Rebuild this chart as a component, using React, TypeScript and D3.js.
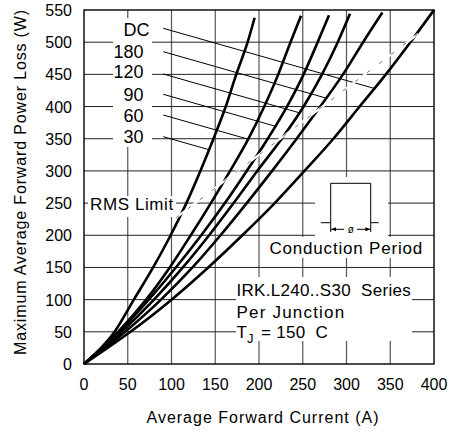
import React from "react";
import * as d3 from "d3";

const WIDTH = 454;
const HEIGHT = 435;
const FONT = "'Liberation Sans', Arial, Helvetica, sans-serif";

// ---- data ----
const xTickValues = [0, 50, 100, 150, 200, 250, 300, 350, 400];
const yTickValues = [0, 50, 100, 150, 200, 250, 300, 350, 400, 450, 500, 550];

const seriesLabels = ["DC", "180", "120", "90", "60", "30"];

const current30 = [0, 35, 57, 79, 99, 117, 133, 148, 162, 174, 187, 195];
const power30 = [0, 50, 100, 150, 200, 250, 300, 350, 400, 450, 500, 538];

const current60 = [0, 39, 71, 98, 122, 145, 167, 188, 206, 222, 236, 248];
const power60 = [0, 50, 100, 150, 200, 250, 300, 350, 400, 450, 500, 541];

const current90 = [0, 40, 74, 105, 134, 161, 186, 210, 232, 251, 267, 280];
const power90 = [0, 50, 100, 150, 200, 250, 300, 350, 400, 450, 500, 542];

const current120 = [0, 43, 80, 113, 143, 171, 198, 226, 251, 272, 290, 304];
const power120 = [0, 50, 100, 150, 200, 250, 300, 350, 400, 450, 500, 544];

const current180 = [0, 47, 88, 124, 156, 186, 215, 243, 270, 296, 319, 341];
const power180 = [0, 50, 100, 150, 200, 250, 300, 350, 400, 450, 500, 546];

const currentDC = [0, 53, 100, 142, 181, 218, 252, 285, 315, 345, 373, 400];
const powerDC = [0, 50, 100, 150, 200, 250, 300, 350, 400, 450, 500, 550];

const rmsCurrent = [105, 382];
const rmsPower = [227, 513];

const seriesCurrents = [currentDC, current180, current120, current90, current60, current30];
const seriesPowers = [powerDC, power180, power120, power90, power60, power30];

// ---- layout ----
const x = d3.scaleLinear().domain([0, 400]).range([84, 434]);
const y = d3.scaleLinear().domain([0, 550]).range([364, 10]);

const labelRight = [149.5, 143.5, 143.5, 143.5, 143.5, 143.5];
const labelBaseline = [36, 58, 78, 101, 121.5, 143];
const leaderStartY = [28.3, 51.7, 74, 94.3, 115, 136.7];
const leaderStartX = 163.3;
const leaderSlope = 0.285;

function leaderEnd(points: [number, number][], y0: number): [number, number] {
  for (let i = 1; i < points.length; i++) {
    const [ax, ay] = points[i - 1];
    const [bx, by] = points[i];
    const fa = ay - (y0 + leaderSlope * (ax - leaderStartX));
    const fb = by - (y0 + leaderSlope * (bx - leaderStartX));
    if (fa >= 0 && fb <= 0) {
      const t = fa / (fa - fb);
      return [ax + t * (bx - ax), ay + t * (by - ay)];
    }
  }
  return points[points.length - 1];
}

export default function App() {
  const line = d3
    .line<[number, number]>()
    .x((d) => x(d[0]))
    .y((d) => y(d[1]))
    .curve(d3.curveMonotoneX);

  const series = seriesCurrents.map((cs, i) =>
    cs.map((c, j) => [c, seriesPowers[i][j]] as [number, number])
  );

  const textStyle = { fontFamily: FONT, fill: "#000" } as React.CSSProperties;

  return (
    <svg
      width={WIDTH}
      height={HEIGHT}
      style={{ position: "absolute", left: 0, top: 0, background: "#fff" }}
    >
      <rect x={0} y={0} width={WIDTH} height={HEIGHT} fill="#fff" />
      {/* grid */}
      {xTickValues.slice(1, -1).map((v) => (
        <line key={"gx" + v} x1={x(v)} x2={x(v)} y1={y(550)} y2={y(0)} stroke="#555" strokeWidth={1.2} />
      ))}
      {yTickValues.slice(1, -1).map((v) => (
        <line key={"gy" + v} x1={x(0)} x2={x(400)} y1={y(v)} y2={y(v)} stroke="#222" strokeWidth={1} />
      ))}

      {/* white boxes behind annotations */}
      <rect x={113} y={18} width={39} height={129} fill="#fff" />
      <rect x={88} y={196} width={88} height={21} fill="#fff" />
      <rect x={315} y={177} width={73} height={61} fill="#fff" />
      <rect x={267} y={237} width={161} height={21} fill="#fff" />
      <rect x={236} y={277} width={176} height={64} fill="#fff" />

      {/* leaders and labels */}
      {series.map((pts, i) => {
        const pix = pts.map((p) => [x(p[0]), y(p[1])] as [number, number]);
        const [ex, ey] = leaderEnd(pix, leaderStartY[i]);
        return (
          <line
            key={"ld" + i}
            x1={leaderStartX}
            y1={leaderStartY[i]}
            x2={ex}
            y2={ey}
            stroke="#000"
            strokeWidth={1}
          />
        );
      })}
      {seriesLabels.map((s, i) => (
        <text
          key={"lb" + s}
          x={labelRight[i]}
          y={labelBaseline[i]}
          textAnchor="end"
          fontSize={18}
          style={textStyle}
        >
          {s}
        </text>
      ))}

      {/* curves */}
      {series.map((pts, i) => (
        <path key={"c" + i} d={line(pts) || ""} fill="none" stroke="#000" strokeWidth={2.6} strokeLinejoin="round" />
      ))}

      {/* RMS limit */}
      <line
        x1={x(rmsCurrent[0])}
        y1={y(rmsPower[0])}
        x2={x(rmsCurrent[1])}
        y2={y(rmsPower[1])}
        stroke="#fff"
        strokeWidth={2.2}
      />
      <line
        x1={x(rmsCurrent[0])}
        y1={y(rmsPower[0])}
        x2={x(rmsCurrent[1])}
        y2={y(rmsPower[1])}
        stroke="#777"
        strokeWidth={1}
        strokeDasharray="4,11"
      />
      <text x={90} y={210} fontSize={17} letterSpacing={0.6} style={textStyle}>
        RMS Limit
      </text>

      {/* conduction period symbol */}
      <path
        d="M320.7,222.7 H330.7 V183.3 H370.7 V222.7 H378.7"
        fill="none"
        stroke="#000"
        strokeWidth={1}
      />
      <line x1={330.7} x2={330.7} y1={222.7} y2={232} stroke="#000" strokeWidth={1} />
      <line x1={370.7} x2={370.7} y1={222.7} y2={232} stroke="#000" strokeWidth={1} />
      <line x1={331} x2={344} y1={229.3} y2={229.3} stroke="#000" strokeWidth={1} />
      <line x1={357} x2={370.4} y1={229.3} y2={229.3} stroke="#000" strokeWidth={1} />
      <path d="M331,229.3 L336,227.3 L336,231.3 Z" fill="#000" />
      <path d="M370.4,229.3 L365.4,227.3 L365.4,231.3 Z" fill="#000" />
      <text x={350.7} y={233} textAnchor="middle" fontSize={10} style={textStyle}>
        ø
      </text>
      <text x={269.5} y={254} fontSize={17} letterSpacing={0.8} style={textStyle}>
        Conduction Period
      </text>

      {/* series info */}
      <text x={236.5} y={296} fontSize={17} letterSpacing={0.3} style={{ ...textStyle, whiteSpace: "pre" }}>
        {"IRK.L240..S30  Series"}
      </text>
      <text x={236.5} y={317.5} fontSize={17} letterSpacing={1.2} style={textStyle}>
        Per Junction
      </text>
      <text x={236.5} y={337.5} fontSize={17} style={textStyle}>
        T
      </text>
      <text x={247} y={343} fontSize={13} style={textStyle}>
        J
      </text>
      <text x={261} y={337.5} fontSize={17} letterSpacing={0.3} style={{ ...textStyle, whiteSpace: "pre" }}>
        {"= 150  C"}
      </text>

      {/* frame */}
      <rect x={x(0)} y={y(550)} width={x(400) - x(0)} height={y(0) - y(550)} fill="none" stroke="#000" strokeWidth={1.4} />

      {/* tick labels */}
      {xTickValues.map((v) => (
        <text key={"xt" + v} x={x(v)} y={390} textAnchor="middle" fontSize={16} style={textStyle}>
          {v}
        </text>
      ))}
      {yTickValues.map((v) => (
        <text key={"yt" + v} x={72} y={y(v) + 6} textAnchor="end" fontSize={16} style={textStyle}>
          {v}
        </text>
      ))}

      {/* axis titles */}
      <text x={263} y={423} textAnchor="middle" fontSize={16} letterSpacing={1} style={textStyle}>
        Average Forward Current (A)
      </text>
      <text
        transform={`translate(26,182) rotate(-90)`}
        textAnchor="middle"
        fontSize={16}
        letterSpacing={0.85}
        style={textStyle}
      >
        Maximum Average Forward Power Loss (W)
      </text>
    </svg>
  );
}
